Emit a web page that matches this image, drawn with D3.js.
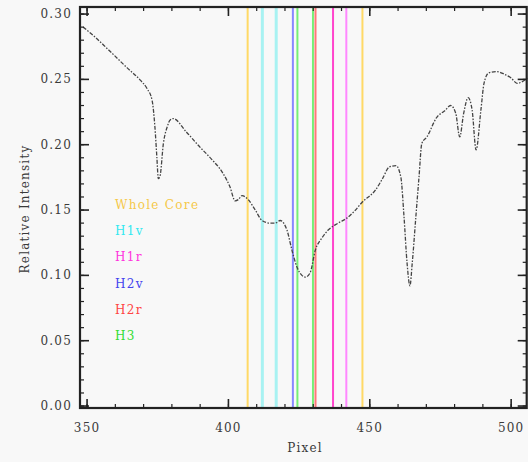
<!DOCTYPE html>
<html><head><meta charset="utf-8">
<script src="https://cdn.jsdelivr.net/npm/d3@7"></script>
<style>
html,body{margin:0;padding:0;background:#f8f8f8;}
svg{display:block;}
text{font-family:"DejaVu Serif",serif;fill:#3a3a3a;}
</style></head>
<body>
<script>
// Spectrum (pixel, relative intensity)
const pixels = [348.6,352,357.4,364.1,369,371.2,373,374,374.7,375.2,375.8,377,378.4,379.4,380.5,385,390,394,398.1,400.5,402.4,403.5,404.8,407,409.5,411.9,414.7,416.5,418.3,420.7,422.5,424.3,426,427.2,428.9,430.7,433.2,435.3,438.8,442,444.5,447.3,451.9,454.5,456.9,459.3,461,462.1,463.2,464.2,465,466.3,467.4,468.4,470.2,473.7,476.5,478.6,480.4,481.8,483.2,484.8,486.2,487.6,489.3,490.4,492.1,494.9,497.5,500,502.1,505.7];
const intensity = [0.290,0.284,0.273,0.259,0.249,0.243,0.234,0.2135,0.190,0.174,0.176,0.201,0.214,0.219,0.220,0.210,0.198,0.189,0.178,0.168,0.157,0.158,0.161,0.158,0.150,0.142,0.140,0.140,0.142,0.1347,0.119,0.106,0.100,0.0987,0.102,0.119,0.129,0.1347,0.140,0.144,0.149,0.156,0.165,0.174,0.183,0.184,0.175,0.145,0.109,0.092,0.109,0.145,0.175,0.201,0.206,0.221,0.226,0.230,0.224,0.206,0.224,0.236,0.2265,0.196,0.2265,0.247,0.255,0.256,0.254,0.251,0.247,0.251];

// Vertical marker lines
const markerPixels = [406.8,412.0,416.9,422.8,424.4,429.9,430.8,437.0,441.7,447.4];
const markerColors = ["#ffd966","#a8f2f2","#a8f2f2","#8888ff","#77ee77","#77ee77","#ff7777","#ff44cc","#ff88ff","#ffd966"];
const markerWidths = [2,3,3,2,2,2,2,2,2,2];

// Legend
const legendLabels = ["Whole Core","H1v","H1r","H2v","H2r","H3"];
const legendColors = ["#f5c84a","#33e8f0","#ff33dd","#4444ee","#ff4444","#33dd33"];

// Axis ticks
const xMajor = [350,400,450,500];
const xMinor = [350,360,370,380,390,400,410,420,430,440,450,460,470,480,490,500];
const yMajor = [0.00,0.05,0.10,0.15,0.20,0.25,0.30];
const yMinor = d3.range(0,31).map(i=>i/100);

const W=528,H=462;
const L=80,R=526.7,T=7,B=408;
const x = d3.scaleLinear().domain([347.5,505.5]).range([L,R]);
const y = d3.scaleLinear().domain([-0.0015,0.3054]).range([B,T]);

const svg = d3.select("body").append("svg").attr("width",W).attr("height",H);
svg.append("rect").attr("width",W).attr("height",H).attr("fill","#f8f8f8");

// markers
svg.append("g").selectAll("line").data(markerPixels).join("line")
  .attr("x1",d=>x(d)).attr("x2",d=>x(d)).attr("y1",T).attr("y2",B)
  .attr("stroke",(d,i)=>markerColors[i]).attr("stroke-width",(d,i)=>markerWidths[i]);

// spectrum
const line = d3.line().x(d=>x(d[0])).y(d=>y(d[1])).curve(d3.curveMonotoneX);
svg.append("path").datum(pixels.map((p,i)=>[p,intensity[i]]))
  .attr("d",line).attr("fill","none").attr("stroke","#444")
  .attr("stroke-width",1.3).attr("stroke-dasharray","4,1.5,1.5,1.5");

// axes ticks (inward)
const g = svg.append("g").attr("stroke","#222");
function tk(vals,len,w){
  vals.forEach(v=>{
    g.append("line").attr("x1",x(v)).attr("x2",x(v)).attr("y1",B).attr("y2",B-len).attr("stroke-width",w);
    g.append("line").attr("x1",x(v)).attr("x2",x(v)).attr("y1",T).attr("y2",T+len).attr("stroke-width",w);
  });
}
tk(xMinor,4,1.2); tk(xMajor,9,1.6);
function tky(vals,len,w){
  vals.forEach(v=>{
    g.append("line").attr("y1",y(v)).attr("y2",y(v)).attr("x1",L).attr("x2",L+len).attr("stroke-width",w);
    g.append("line").attr("y1",y(v)).attr("y2",y(v)).attr("x1",R).attr("x2",R-len).attr("stroke-width",w);
  });
}
tky(yMinor,4,1.2); tky(yMajor,9,1.6);

// frame
svg.append("rect").attr("x",L).attr("y",T).attr("width",R-L).attr("height",B-T)
  .attr("fill","none").attr("stroke","#222").attr("stroke-width",2.2);

// tick labels
svg.append("g").selectAll("text").data(xMajor).join("text")
  .attr("x",d=>x(d)).attr("y",432).attr("text-anchor","middle")
  .attr("font-size",12).attr("letter-spacing",1.2).text(d=>d);
svg.append("g").selectAll("text").data(yMajor).join("text")
  .attr("x",72).attr("y",d=>y(d)+4).attr("text-anchor","end")
  .attr("font-size",12).attr("letter-spacing",1.2).text(d=>d.toFixed(2));

// axis titles
svg.append("text").attr("x",305).attr("y",452).attr("text-anchor","middle")
  .attr("font-size",12).attr("letter-spacing",1.2).text("Pixel");
svg.append("text").attr("transform","translate(29,209) rotate(-90)").attr("text-anchor","middle")
  .attr("font-size",12).attr("letter-spacing",1.2).text("Relative Intensity");

// legend
svg.append("g").selectAll("text").data(legendLabels).join("text")
  .attr("x",115).attr("y",(d,i)=>209+i*26.2)
  .attr("font-size",12).attr("letter-spacing",1.3)
  .style("fill",(d,i)=>legendColors[i]).text(d=>d);
</script>
</body></html>
